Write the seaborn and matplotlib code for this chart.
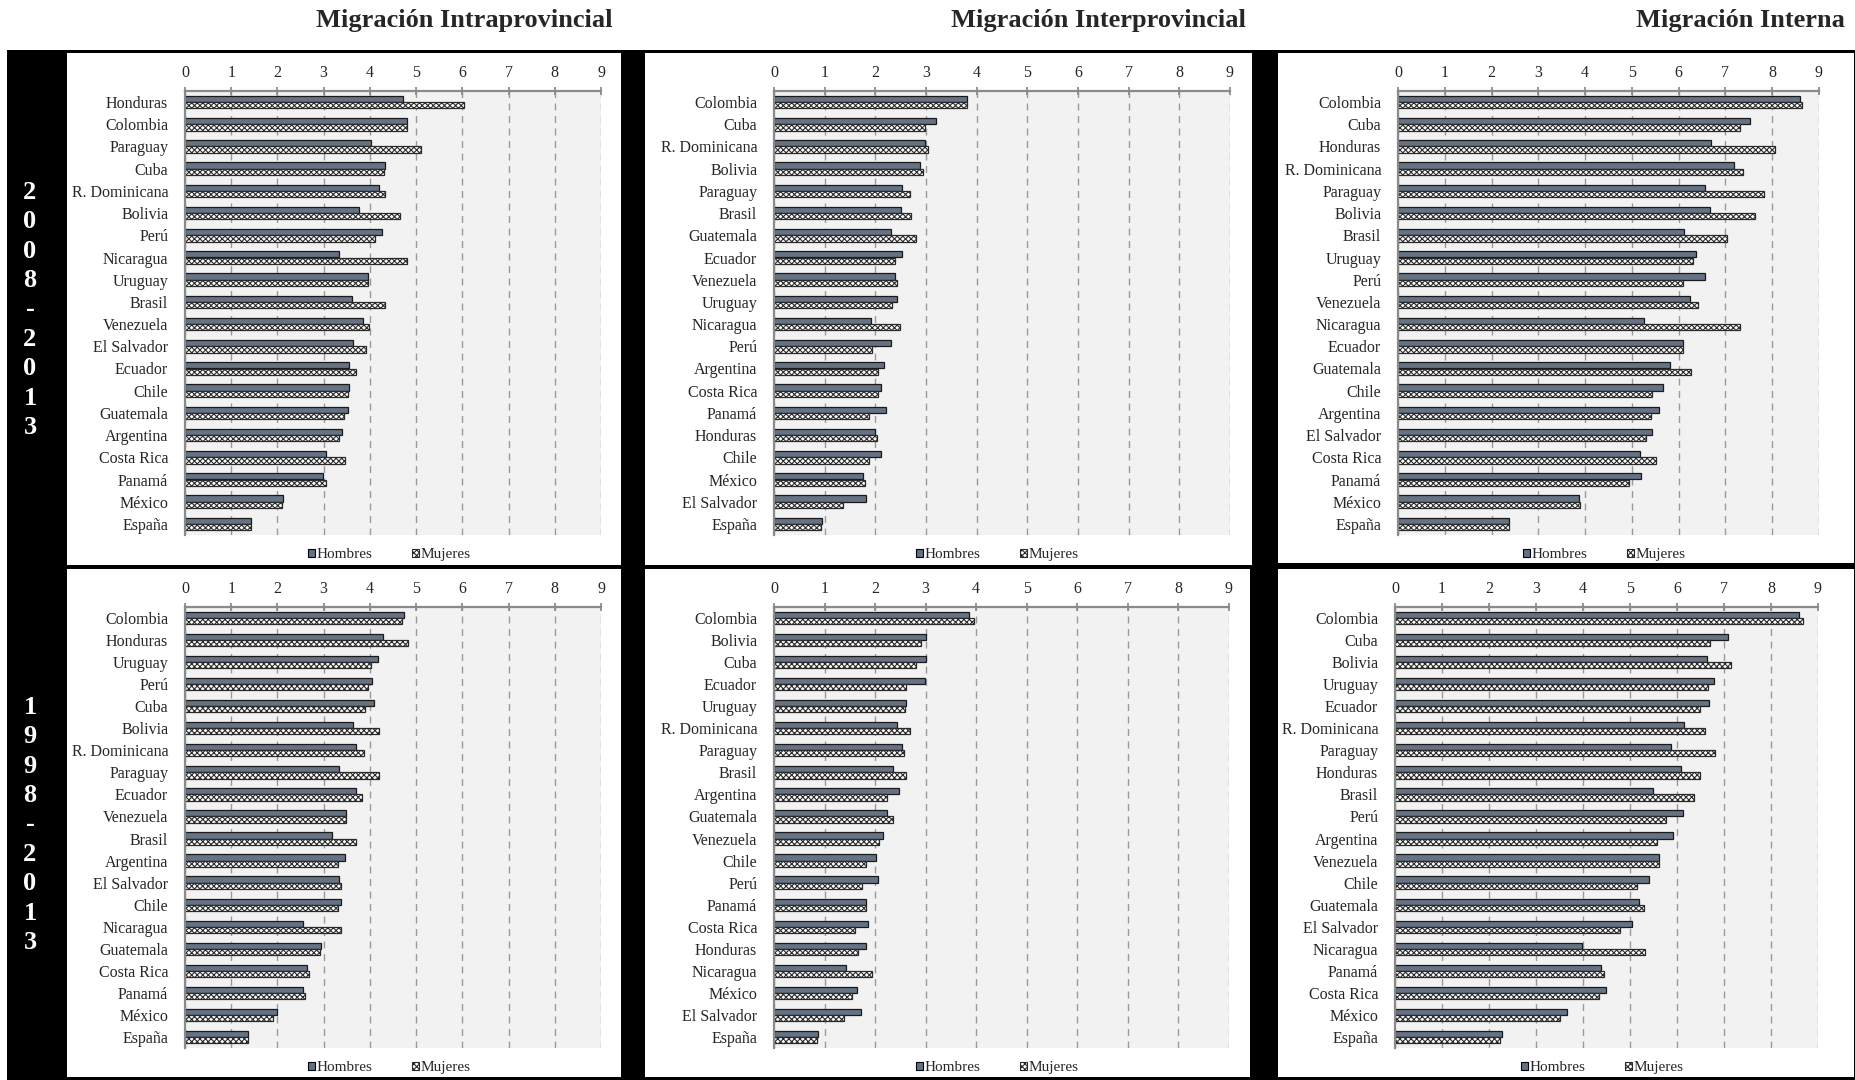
import numpy as np
import pandas as pd
import matplotlib
matplotlib.use("Agg")
import matplotlib.pyplot as plt
from matplotlib.patches import Rectangle, Patch
import seaborn as sns

# Datos (tasas de migracion por sexo)
# 2008-2013 - Migracion Intraprovincial
intra_0813_paises = ["Honduras", "Colombia", "Paraguay", "Cuba", "R. Dominicana", "Bolivia",
                     "Perú", "Nicaragua", "Uruguay", "Brasil", "Venezuela", "El Salvador",
                     "Ecuador", "Chile", "Guatemala", "Argentina", "Costa Rica", "Panamá",
                     "México", "España"]
intra_0813_hombres = [4.71, 4.80, 4.03, 4.33, 4.20, 3.76, 4.27, 3.34, 3.96, 3.61,
                      3.85, 3.63, 3.55, 3.55, 3.52, 3.39, 3.05, 2.98, 2.12, 1.43]
intra_0813_mujeres = [6.03, 4.80, 5.11, 4.30, 4.33, 4.65, 4.12, 4.80, 3.96, 4.33,
                      3.97, 3.91, 3.70, 3.52, 3.43, 3.34, 3.46, 3.05, 2.09, 1.43]

# 2008-2013 - Migracion Interprovincial
inter_0813_paises = ["Colombia", "Cuba", "R. Dominicana", "Bolivia", "Paraguay", "Brasil",
                     "Guatemala", "Ecuador", "Venezuela", "Uruguay", "Nicaragua", "Perú",
                     "Argentina", "Costa Rica", "Panamá", "Honduras", "Chile", "México",
                     "El Salvador", "España"]
inter_0813_hombres = [3.80, 3.20, 2.99, 2.89, 2.53, 2.50, 2.30, 2.53, 2.39, 2.42,
                      1.91, 2.30, 2.17, 2.12, 2.21, 2.00, 2.12, 1.76, 1.82, 0.95]
inter_0813_mujeres = [3.80, 2.99, 3.04, 2.95, 2.69, 2.71, 2.81, 2.39, 2.42, 2.32,
                      2.48, 1.94, 2.06, 2.06, 1.88, 2.03, 1.88, 1.79, 1.37, 0.92]

# 2008-2013 - Migracion Interna
interna_0813_paises = ["Colombia", "Cuba", "Honduras", "R. Dominicana", "Paraguay", "Bolivia",
                       "Brasil", "Uruguay", "Perú", "Venezuela", "Nicaragua", "Ecuador",
                       "Guatemala", "Chile", "Argentina", "El Salvador", "Costa Rica", "Panamá",
                       "México", "España"]
interna_0813_hombres = [8.60, 7.52, 6.69, 7.19, 6.57, 6.66, 6.12, 6.36, 6.57, 6.24,
                        5.25, 6.09, 5.82, 5.67, 5.59, 5.43, 5.17, 5.19, 3.88, 2.38]
interna_0813_mujeres = [8.63, 7.31, 8.06, 7.37, 7.82, 7.64, 7.04, 6.30, 6.09, 6.42,
                        7.31, 6.09, 6.27, 5.43, 5.40, 5.31, 5.52, 4.94, 3.90, 2.38]

# 1998-2013 - Migracion Intraprovincial
intra_9813_paises = ["Colombia", "Honduras", "Uruguay", "Perú", "Cuba", "Bolivia",
                     "R. Dominicana", "Paraguay", "Ecuador", "Venezuela", "Brasil", "Argentina",
                     "El Salvador", "Chile", "Nicaragua", "Guatemala", "Costa Rica", "Panamá",
                     "México", "España"]
intra_9813_hombres = [4.74, 4.29, 4.17, 4.05, 4.08, 3.64, 3.70, 3.34, 3.70, 3.49,
                      3.17, 3.46, 3.34, 3.37, 2.56, 2.95, 2.65, 2.56, 2.00, 1.36]
intra_9813_mujeres = [4.70, 4.83, 4.02, 3.96, 3.90, 4.20, 3.88, 4.20, 3.82, 3.49,
                      3.70, 3.30, 3.37, 3.30, 3.37, 2.92, 2.69, 2.59, 1.90, 1.36]

# 1998-2013 - Migracion Interprovincial
inter_9813_paises = ["Colombia", "Bolivia", "Cuba", "Ecuador", "Uruguay", "R. Dominicana",
                     "Paraguay", "Brasil", "Argentina", "Guatemala", "Venezuela", "Chile",
                     "Perú", "Panamá", "Costa Rica", "Honduras", "Nicaragua", "México",
                     "El Salvador", "España"]
inter_9813_hombres = [3.85, 3.01, 3.01, 2.98, 2.62, 2.44, 2.54, 2.36, 2.47, 2.23,
                      2.15, 2.02, 2.05, 1.82, 1.85, 1.82, 1.43, 1.64, 1.72, 0.88]
inter_9813_mujeres = [3.95, 2.90, 2.80, 2.62, 2.59, 2.69, 2.57, 2.62, 2.23, 2.36,
                      2.08, 1.82, 1.75, 1.82, 1.61, 1.67, 1.93, 1.54, 1.39, 0.86]

# 1998-2013 - Migracion Interna
interna_9813_paises = ["Colombia", "Cuba", "Bolivia", "Uruguay", "Ecuador", "R. Dominicana",
                       "Paraguay", "Honduras", "Brasil", "Perú", "Argentina", "Venezuela",
                       "Chile", "Guatemala", "El Salvador", "Nicaragua", "Panamá", "Costa Rica",
                       "México", "España"]
interna_9813_hombres = [8.60, 7.08, 6.63, 6.78, 6.68, 6.15, 5.88, 6.09, 5.49, 6.12,
                        5.91, 5.61, 5.41, 5.19, 5.04, 3.98, 4.39, 4.48, 3.65, 2.27]
interna_9813_mujeres = [8.68, 6.71, 7.14, 6.65, 6.48, 6.60, 6.80, 6.50, 6.36, 5.76,
                        5.58, 5.61, 5.14, 5.29, 4.78, 5.31, 4.44, 4.33, 3.50, 2.24]

titulos = ["Migración Intraprovincial", "Migración Interprovincial", "Migración Interna"]
periodos = ["2008-2013", "1998-2013"]

W, H = 1856, 1080
COLOR_H = "#607289"
GRIS = "#8a8a8a"
TRAMA = "xxxxxx"


# Convierte una caja en pixeles (desde arriba) a coordenadas de figura
def caja(x0, y0, x1, y1):
    return [x0 / W, 1 - y1 / H, (x1 - x0) / W, (y1 - y0) / H]


def rect(fig, x0, y0, x1, y1, color, z):
    l, b, w, h = caja(x0, y0, x1, y1)
    fig.add_artist(Rectangle((l, b), w, h, transform=fig.transFigure,
                             facecolor=color, edgecolor="none", zorder=z))


def plot_panel(ax, paises, hombres, mujeres):
    df = pd.DataFrame({"País": paises, "Hombres": hombres, "Mujeres": mujeres})
    largo = df.melt(id_vars="País", var_name="Sexo", value_name="Tasa")
    sns.barplot(
        data=largo, y="País", x="Tasa", hue="Sexo", order=paises,
        hue_order=["Hombres", "Mujeres"],
        palette={"Hombres": COLOR_H, "Mujeres": "white"},
        orient="h", width=0.56, errorbar=None, legend=False, ax=ax,
        edgecolor="#1a1a1a", linewidth=0.9,
    )
    # Mujeres con trama cruzada
    for barra in ax.containers[1]:
        barra.set_hatch(TRAMA)
        barra.set_edgecolor("#2a2a2a")

    ax.set_facecolor("#f2f2f2")
    ax.set_xlim(0, 9)
    ax.set_ylim(19.5, -0.5)
    ax.set_xticks(range(10))
    ax.set_xlabel("")
    ax.set_ylabel("")
    ax.xaxis.tick_top()
    ax.tick_params(axis="x", top=True, bottom=False, labeltop=True, labelbottom=False,
                   direction="inout", length=6, color=GRIS, pad=4, labelsize=11.5)
    ax.tick_params(axis="y", which="major", length=0, pad=12, labelsize=11.5)
    ax.set_yticks(np.arange(-0.5, 20, 1), minor=True)
    ax.tick_params(axis="y", which="minor", length=5, color=GRIS, direction="out")
    ax.xaxis.grid(True, linestyle=(0, (5, 4)), color="#9a9a9a", linewidth=1)
    ax.set_axisbelow(True)
    for lado in ["right", "bottom"]:
        ax.spines[lado].set_visible(False)
    for lado in ["top", "left"]:
        ax.spines[lado].set_color(GRIS)
        ax.spines[lado].set_linewidth(1.6)

    handles = [Patch(facecolor=COLOR_H, edgecolor="black", linewidth=0.8),
               Patch(facecolor="white", edgecolor="#2a2a2a", hatch=TRAMA, linewidth=0.8)]
    ax.legend(handles, ["Hombres", "Mujeres"], loc="center", bbox_to_anchor=(0.49, -0.045),
              ncol=2, frameon=False, fontsize=11, handlelength=0.45, handleheight=0.45,
              handletextpad=0.1, columnspacing=2.6, borderaxespad=0)


def plot_migracion():
    sns.set_theme(style="white")
    plt.rcParams["font.family"] = ["Liberation Serif", "DejaVu Serif"]
    plt.rcParams["hatch.linewidth"] = 0.8

    fig = plt.figure(figsize=(W / 100, H / 100), dpi=100)
    fig.patch.set_facecolor("white")

    # Fondo negro y recuadros blancos de cada panel
    rect(fig, 7, 50, W, H, "black", -3)
    paneles = [(67, 53, 621, 565), (645, 53, 1252, 565), (1278, 53, 1854, 563),
               (67, 569, 621, 1077), (645, 569, 1250, 1077), (1278, 569, 1854, 1077)]
    for p in paneles:
        rect(fig, *p, "white", -2)

    ejes = [(185, 91, 601, 535), (774, 91, 1230, 535), (1398, 91, 1819, 535),
            (185, 607, 601, 1048), (774, 607, 1229, 1048), (1395, 607, 1818, 1048)]
    datos = [
        (intra_0813_paises, intra_0813_hombres, intra_0813_mujeres),
        (inter_0813_paises, inter_0813_hombres, inter_0813_mujeres),
        (interna_0813_paises, interna_0813_hombres, interna_0813_mujeres),
        (intra_9813_paises, intra_9813_hombres, intra_9813_mujeres),
        (inter_9813_paises, inter_9813_hombres, inter_9813_mujeres),
        (interna_9813_paises, interna_9813_hombres, interna_9813_mujeres),
    ]
    for pos, (paises, hombres, mujeres) in zip(ejes, datos):
        ax = fig.add_axes(caja(*pos))
        plot_panel(ax, paises, hombres, mujeres)

    # Titulos de columnas
    for x, titulo in zip([464, 1098, 1740], titulos):
        fig.text(x / W, 1 - 20 / H, titulo, ha="center", va="center",
                 fontsize=19, fontweight="bold")

    # Periodos en la franja negra izquierda
    for y, periodo in zip([310, 825], periodos):
        fig.text(30 / W, 1 - y / H, "\n".join(periodo), ha="center", va="center",
                 color="white", fontsize=19, fontweight="bold", linespacing=1.36)

    plt.savefig("out.png", dpi=100)


plot_migracion()
